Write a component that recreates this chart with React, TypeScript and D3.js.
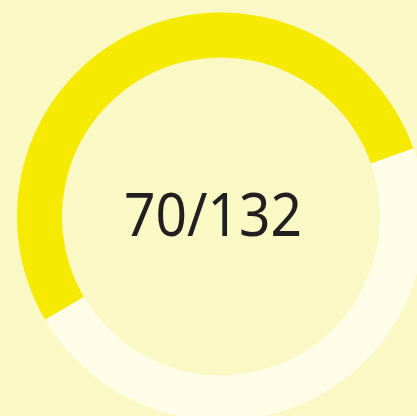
import { useEffect, useRef } from "react";
import * as d3 from "d3";

// progress gauge: part of the total
const segments = ["done", "left"];
const progress = [70];
const total = [132];

const width = 417;
const height = 416;

export default function App() {
  const svgRef = useRef<SVGSVGElement | null>(null);

  useEffect(() => {
    if (!svgRef.current) return;
    const svg = d3.select(svgRef.current);
    svg.selectAll("*").remove();

    const cx = 221;
    const cy = 216.5;
    const outer = 204;
    const inner = 159;

    svg
      .append("rect")
      .attr("width", width)
      .attr("height", height)
      .attr("fill", "#faf8c4");

    const g = svg.append("g").attr("transform", `translate(${cx},${cy})`);

    const values = [progress[0], total[0] - progress[0]];
    const color = d3
      .scaleOrdinal<string, string>()
      .domain(segments)
      .range(["#f5ea00", "#fffde8"]);

    // gauge starts at roughly 8 o'clock
    const start = (-120.4 * Math.PI) / 180;
    const pie = d3
      .pie<number>()
      .sort(null)
      .startAngle(start)
      .endAngle(start + Math.PI * 2);

    const arc = d3.arc<d3.PieArcDatum<number>>().innerRadius(inner).outerRadius(outer);

    g.selectAll("path")
      .data(pie(values))
      .join("path")
      .attr("d", arc)
      .attr("fill", (_, i) => color(segments[i]));

    // label is a bit left of the ring centre, narrow face
    g.append("text")
      .attr("x", -8)
      .attr("y", 19.5)
      .attr("text-anchor", "middle")
      .attr("font-family", "'Noto Sans', sans-serif")
      .attr("font-size", 60)
      .attr("textLength", 178)
      .attr("lengthAdjust", "spacingAndGlyphs")
      .attr("fill", "#231f20")
      .text(`${progress[0]}/${total[0]}`);
  }, []);

  return (
    <svg
      ref={svgRef}
      width={width}
      height={height}
      style={{ position: "fixed", left: 0, top: 0, display: "block" }}
    />
  );
}
